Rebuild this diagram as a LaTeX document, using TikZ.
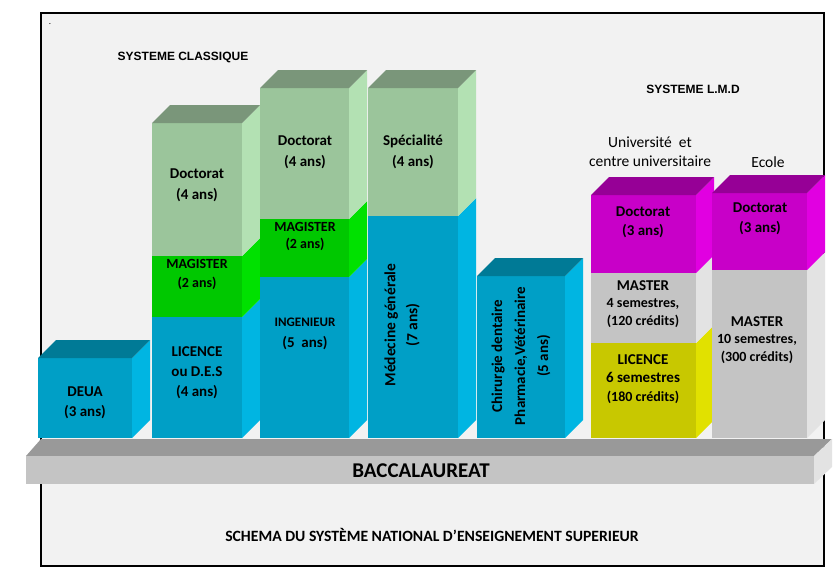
\documentclass[tikz,border=0pt]{standalone}
\usepackage{fontspec}
\setmainfont{Carlito}
\newfontfamily\arialfont{Liberation Sans}
\usepackage{tikz}
\usetikzlibrary{calc}
\definecolor{cyanfront}{HTML}{009FC6}
\definecolor{cyanside}{HTML}{00B5E2}
\definecolor{cyantop}{HTML}{007A96}
\definecolor{palefront}{HTML}{9BC59B}
\definecolor{paleside}{HTML}{B3E1B3}
\definecolor{paletop}{HTML}{7A967A}
\definecolor{greenfront}{HTML}{00C800}
\definecolor{greenside}{HTML}{00E100}
\definecolor{magfront}{HTML}{C800C8}
\definecolor{magside}{HTML}{E100E1}
\definecolor{magtop}{HTML}{960096}
\definecolor{greyfront}{HTML}{C4C4C4}
\definecolor{greyside}{HTML}{E3E3E3}
\definecolor{greytop}{HTML}{999999}
\definecolor{yelfront}{HTML}{C8C800}
\definecolor{yelside}{HTML}{E1E100}
\definecolor{framebg}{HTML}{F2F2F2}
\newcommand{\blockdepth}{18}
\newcommand{\makeblock}[6]{
	\fill[#5] (#1,#3) rectangle (#2,#4);
	\fill[#6] (#2,#3) -- ++(\blockdepth,-\blockdepth) -- ($(#2,#4)+(\blockdepth,-\blockdepth)$) -- (#2,#4) -- cycle;
}
\newcommand{\maketop}[4]{
	\fill[#4] (#1,#3) -- (#2,#3) -- ++(\blockdepth,-\blockdepth) -- ($(#1,#3)+(\blockdepth,-\blockdepth)$) -- cycle;
}
\tikzset{
	lbl/.style={align=center, text=black, font=\bfseries\fontsize{15}{20}\selectfont},
	small/.style={align=center, text=black, font=\bfseries\fontsize{14}{19}\selectfont},
	title/.style={text=black, font=\arialfont\bfseries\fontsize{12}{15}\selectfont},
	plain/.style={align=center, text=black, font=\fontsize{15.5}{19}\selectfont}
}

\begin{document}
\begin{tikzpicture}[x=1pt,y=-1pt]
	\useasboundingbox (0,0) rectangle (840,576);
	\draw[fill=framebg, line width=1.1pt] (41,13) rectangle (824,566);

	\makeblock{38}{132}{358}{438}{cyanfront}{cyanside}
	\maketop{38}{132}{358}{cyantop}

	\makeblock{152}{242}{317}{438}{cyanfront}{cyanside}
	\makeblock{152}{242}{256}{317}{greenfront}{greenside}
	\makeblock{152}{242}{123}{256}{palefront}{paleside}
	\maketop{152}{242}{123}{paletop}

	\makeblock{260}{349}{277}{438}{cyanfront}{cyanside}
	\makeblock{260}{349}{219}{277}{greenfront}{greenside}
	\makeblock{260}{349}{88}{219}{palefront}{paleside}
	\maketop{260}{349}{88}{paletop}

	\makeblock{368}{458}{216}{438}{cyanfront}{cyanside}
	\makeblock{368}{458}{88}{216}{palefront}{paleside}
	\maketop{368}{458}{88}{paletop}

	\makeblock{477}{565}{276}{438}{cyanfront}{cyanside}
	\maketop{477}{565}{276}{cyantop}

	\makeblock{591}{696}{343}{438}{yelfront}{yelside}
	\makeblock{591}{696}{273}{343}{greyfront}{greyside}
	\makeblock{591}{696}{195}{273}{magfront}{magside}
	\maketop{591}{696}{195}{magtop}

	\makeblock{712}{807}{270}{438}{greyfront}{greyside}
	\makeblock{712}{807}{193}{270}{magfront}{magside}
	\maketop{712}{807}{193}{magtop}

	% baccalaureat
	\fill[greytop] (26,456) -- (814,456) -- (832,439) -- (41,439) -- cycle;
	\fill[greyfront] (26,456) rectangle (814,484);
	\fill[greyside] (814,456) -- (832,439) -- (832,467) -- (814,484) -- cycle;

	\node[font=\small] (dot) at (50,24) {.};
	\node[title] (classique) at (183,57) {SYSTEME CLASSIQUE};
	\node[title] (lmd) at (693,89) {SYSTEME L.M.D};
	\node[plain] (univ) at (650,152) {Université\ \ et\\centre universitaire};
	\node[plain] (ecole) at (768,162) {Ecole};

	\node[lbl] (deua) at (85,403) {DEUA\\(3 ans)};
	\node[lbl, font=\bfseries\fontsize{15}{21}\selectfont] (doc1) at (197,185) {Doctorat\\(4 ans)};
	\node[small] (mag1) at (197,274) {MAGISTER\\(2 ans)};
	\node[lbl] (lic1) at (197,373) {LICENCE\\ou D.E.S\\(4 ans)};
	\node[lbl, font=\bfseries\fontsize{15}{21}\selectfont] (doc2) at (305,152) {Doctorat\\(4 ans)};
	\node[small, font=\bfseries\fontsize{14}{17}\selectfont] (mag2) at (305,236) {MAGISTER\\(2 ans)};
	\node[lbl, font=\bfseries\fontsize{15}{21}\selectfont] (ing) at (305,334) {{\fontsize{13}{21}\selectfont INGENIEUR}\\(5\ \ ans)};
	\node[lbl, font=\bfseries\fontsize{15}{21}\selectfont] (spec) at (413,152) {Spécialité\\(4 ans)};
	\node[lbl, rotate=90, font=\bfseries\fontsize{15.5}{22}\selectfont] (med) at (402,325) {Médecine générale\\(7 ans)};
	\node[lbl, rotate=90, font=\bfseries\fontsize{15}{23}\selectfont] (chir) at (521,356) {Chirurgie dentaire\\Pharmacie,Vétérinaire\\(5 ans)};
	\node[lbl, font=\bfseries\fontsize{15}{19}\selectfont] (doc3) at (643,222) {Doctorat\\(3 ans)};
	\node[small, font=\bfseries\fontsize{14}{17.5}\selectfont] (mas1) at (643,304) {{\fontsize{15}{17.5}\selectfont MASTER}\\4 semestres,\\(120 crédits)};
	\node[small, font=\bfseries\fontsize{14}{18.5}\selectfont] (lic2) at (643,379) {{\fontsize{15}{18.5}\selectfont LICENCE}\\{\fontsize{15}{18.5}\selectfont 6 semestres}\\(180 crédits)};
	\node[lbl, font=\bfseries\fontsize{15}{20}\selectfont] (doc4) at (760,219) {Doctorat\\(3 ans)};
	\node[small, font=\bfseries\fontsize{14}{17.5}\selectfont] (mas2) at (757,340) {{\fontsize{15}{17.5}\selectfont MASTER}\\10 semestres,\\(300 crédits)};

	\node[lbl, font=\bfseries\fontsize{21}{24}\selectfont] (bac) at (421,471) {BACCALAUREAT};
	\node[lbl, font=\bfseries\fontsize{15.7}{20}\selectfont] (schema) at (432,535) {SCHEMA DU SYSTÈME NATIONAL D’ENSEIGNEMENT SUPERIEUR};
\end{tikzpicture}
\end{document}
